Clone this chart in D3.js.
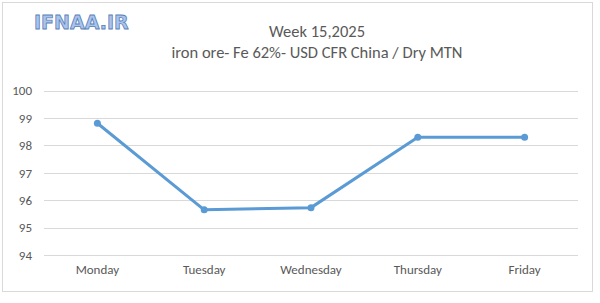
<!DOCTYPE html>
<html>
<head>
<meta charset="utf-8">
<script src="https://cdn.jsdelivr.net/npm/d3@7"></script>
<style>
  body { margin: 0; background: #fff; }
  svg text { font-family: Carlito, Calibri, "Open Sans", sans-serif; }
</style>
</head>
<body>
<svg id="chart" width="600" height="303"></svg>
<script>
var days = ['Monday', 'Tuesday', 'Wednesday', 'Thursday', 'Friday'];
var prices = [98.81, 95.65, 95.73, 98.3, 98.3];
var yTicks = [94, 95, 96, 97, 98, 99, 100];
var titleLines = ['Week 15,2025', 'iron ore- Fe 62%- USD CFR China / Dry MTN'];

var svg = d3.select('#chart');

// outer frame
svg.append('rect')
    .attr('x', 2.5).attr('y', 2.5)
    .attr('width', 590).attr('height', 289)
    .attr('fill', '#fff')
    .attr('stroke', '#d9d9d9');

var x = d3.scaleBand()
    .domain(days)
    .range([44, 578]);

var y = d3.scaleLinear()
    .domain([94, 100])
    .range([255, 90.7]);

// gridlines
svg.append('g')
    .selectAll('line')
    .data(yTicks)
    .enter().append('line')
    .attr('x1', 44).attr('x2', 578)
    .attr('y1', function (d) { return Math.round(y(d)) + 0.5; })
    .attr('y2', function (d) { return Math.round(y(d)) + 0.5; })
    .attr('stroke', '#d9d9d9')
    .attr('stroke-width', 1);

var yAxis = d3.axisLeft(y).tickValues(yTicks).tickFormat(d3.format('d')).tickSize(0).tickPadding(0);
svg.append('g')
    .attr('transform', 'translate(32,0)')
    .call(yAxis)
    .call(function (g) { g.select('.domain').remove(); })
    .selectAll('text')
    .attr('fill', '#595959')
    .style('font-size', '13px');

var xAxis = d3.axisBottom(x).tickSize(0).tickPadding(0);
svg.append('g')
    .attr('transform', 'translate(0,265)')
    .call(xAxis)
    .call(function (g) { g.select('.domain').remove(); })
    .selectAll('text')
    .attr('fill', '#595959')
    .style('font-size', '13px');

var line = d3.line()
    .x(function (d, i) { return x(days[i]) + x.bandwidth() / 2; })
    .y(function (d) { return y(d); });

svg.append('path')
    .datum(prices)
    .attr('d', line)
    .attr('fill', 'none')
    .attr('stroke', '#5b9bd5')
    .attr('stroke-width', 3)
    .attr('stroke-linejoin', 'round');

svg.append('g')
    .selectAll('circle')
    .data(prices)
    .enter().append('circle')
    .attr('cx', function (d, i) { return x(days[i]) + x.bandwidth() / 2; })
    .attr('cy', function (d) { return y(d); })
    .attr('r', 3.5)
    .attr('fill', '#5b9bd5');

// title
svg.append('g')
    .selectAll('text')
    .data(titleLines)
    .enter().append('text')
    .attr('x', 317)
    .attr('y', function (d, i) { return 37 + i * 21; })
    .attr('text-anchor', 'middle')
    .attr('fill', '#595959')
    .style('font-size', '16.5px')
    .text(function (d) { return d; });

// watermark logo
svg.append('text')
    .attr('x', 34).attr('y', 29)
    .attr('fill', '#a9c4ec')
    .attr('stroke', '#5a7fb8')
    .attr('stroke-width', 0.8)
    .style('font-size', '19px')
    .style('font-weight', 'bold')
    .style('font-family', '"DejaVu Sans", sans-serif')
    .text('IFNAA.IR');
</script>
</body>
</html>
